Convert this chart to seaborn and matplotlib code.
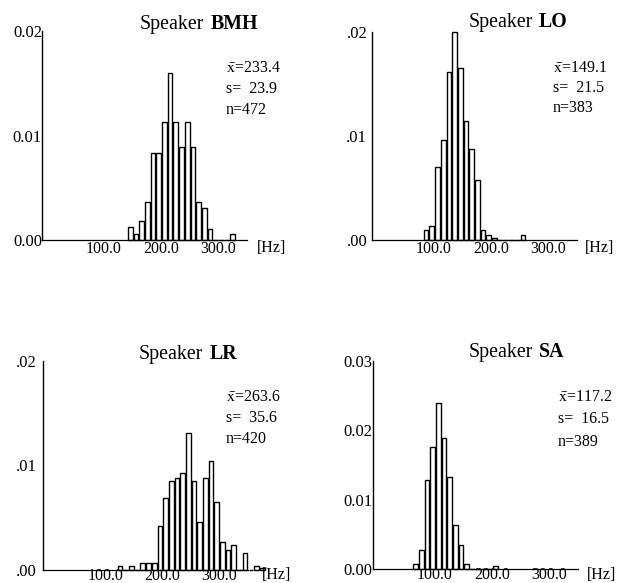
import numpy as np
import pandas as pd
import matplotlib
matplotlib.use("Agg")
import matplotlib.pyplot as plt
import matplotlib.transforms as mtransforms
import seaborn as sns

# ---------------- data (density per 10-Hz bin) ----------------
speakers = ["BMH", "LO", "LR", "SA"]
bin_width = 10
bmh_start = 150
bmh_heights = [0.0012, 0.0006, 0.0018, 0.0036, 0.0083, 0.0083, 0.0113, 0.0160,
               0.0113, 0.0089, 0.0113, 0.0089, 0.0036, 0.0031, 0.0011, 0.0,
               0.0, 0.0, 0.0006]
lo_start = 90
lo_heights = [0.0010, 0.0013, 0.0070, 0.0096, 0.0161, 0.0200, 0.0165, 0.0114,
              0.0087, 0.0058, 0.0010, 0.0005, 0.0002, 0.0, 0.0, 0.0, 0.0, 0.0005]
lr_start = 130
lr_heights = [0.0004, 0.0, 0.0004, 0.0, 0.0007, 0.0007, 0.0007, 0.0042, 0.0069,
              0.0085, 0.0088, 0.0093, 0.0131, 0.0085, 0.0046, 0.0088, 0.0104,
              0.0065, 0.0027, 0.0019, 0.0024, 0.0, 0.0016, 0.0, 0.0004, 0.0002]
sa_start = 70
sa_heights = [0.0008, 0.0028, 0.0129, 0.0176, 0.0239, 0.0189, 0.0133, 0.0064,
              0.0035, 0.0008, 0.0, 0.0, 0.0, 0.0, 0.0005]

means = ["233.4", "149.1", "263.6", "117.2"]
sds = ["23.9", "21.5", "35.6", "16.5"]
ns = ["472", "383", "420", "389"]

x_ticks = [100, 200, 300]
x_tick_labels = ["100.0", "200.0", "300.0"]
y_ticks_02 = [0.0, 0.01, 0.02]
y_ticks_03 = [0.0, 0.01, 0.02, 0.03]
y_labels = [["0.00", "0.01", "0.02"],
            [".00", ".01", ".02"],
            [".00", ".01", ".02"],
            ["0.00", "0.01", "0.02", "0.03"]]

starts = [bmh_start, lo_start, lr_start, sa_start]
heights = [bmh_heights, lo_heights, lr_heights, sa_heights]

# ---------------- style ----------------
sns.set_style("white")
plt.rcParams["font.family"] = ["Liberation Serif", "DejaVu Serif"]
plt.rcParams["mathtext.fontset"] = "stix"
for key in ["text.color", "xtick.color", "ytick.color", "axes.labelcolor", "axes.edgecolor"]:
    plt.rcParams[key] = "black"

W, H = 617, 583
fig = plt.figure(figsize=(W / 100, H / 100), dpi=100)


def fx(x):
    return x / W


def fy(y):
    return 1 - y / H


# axes geometry in pixels: (left, right, y_zero, y_top)
geom = [(42, 247, 240, 31),
        (372, 577, 240, 31.7),
        (43.3, 248, 570, 360.7),
        (372.7, 578, 569.3, 360.7)]
ytops = [0.02, 0.02, 0.02, 0.03]
ypads = [0.0, 3.5, 5.0, 0.0]
xpads = [0.5, 0.5, -1.8, -1.8]

# title positions: (speaker right edge, name left edge, baseline)
titles = [(204, 211, 29), (533, 539, 27), (203, 210, 359), (533, 539, 357)]
# stats positions: (x, y1, y2, y3)
stats = [(226, 68, 89, 110), (553, 68, 88, 108), (226, 397, 418, 439), (558, 397, 419, 442)]
hz_pos = [(257, 248), (585, 248), (262, 575), (587, 575)]

for i in range(4):
    l, r, y0, yt = geom[i]
    ax = fig.add_axes([fx(l), fy(y0), (r - l) / W, (y0 - yt) / H])
    nb = len(heights[i])
    centers = [starts[i] + bin_width * k + bin_width / 2 for k in range(nb)]
    df = pd.DataFrame({"f0": centers, "density": heights[i]})
    sns.histplot(data=df, x="f0", weights="density", binwidth=bin_width,
                 binrange=(starts[i], starts[i] + bin_width * nb), stat="count",
                 color="white", edgecolor="black", linewidth=1.0, alpha=1,
                 shrink=0.82, ax=ax)
    for p in ax.patches:
        p.set_clip_on(False)
    ax.set_xlim(0, 360)
    ax.set_ylim(0, ytops[i])
    ax.set_xlabel("")
    ax.set_ylabel("")
    ax.set_facecolor("none")
    for s in ["top", "right"]:
        ax.spines[s].set_visible(False)
    ax.spines["left"].set_color("black")
    ax.spines["left"].set_linewidth(1.0)
    ax.spines["bottom"].set_color("black")
    ax.spines["bottom"].set_linewidth(0.9)
    ax.set_xticks(x_ticks)
    ax.set_xticklabels(x_tick_labels, fontsize=11.5)
    yt_vals = y_ticks_03 if ytops[i] == 0.03 else y_ticks_02
    ax.set_yticks(yt_vals)
    ax.set_yticklabels(y_labels[i], fontsize=12)
    ax.tick_params(axis="x", length=0, pad=xpads[i])
    ax.tick_params(axis="y", length=0, pad=ypads[i])
    off = mtransforms.ScaledTranslation(5 / 100, 0, fig.dpi_scale_trans)
    for lab in ax.get_xticklabels():
        lab.set_transform(lab.get_transform() + off)

    sx, nx, by = titles[i]
    fig.text(fx(sx), fy(by), "Speaker", ha="right", va="baseline", fontsize=14.3)
    fig.text(fx(nx), fy(by), speakers[i], ha="left", va="baseline", fontsize=14.3,
             fontweight="bold")

    tx, t1, t2, t3 = stats[i]
    fig.text(fx(tx), fy(t1), r"$\bar{\mathrm{x}}$=" + means[i], ha="left", va="center", fontsize=11.5)
    fig.text(fx(tx), fy(t2), "s=  " + sds[i], ha="left", va="center", fontsize=11.5)
    fig.text(fx(tx), fy(t3), "n=" + ns[i], ha="left", va="center", fontsize=11.5)

    hx, hy = hz_pos[i]
    fig.text(fx(hx), fy(hy), "[Hz]", ha="left", va="center", fontsize=11.5)

fig.savefig("out.png", dpi=100)
